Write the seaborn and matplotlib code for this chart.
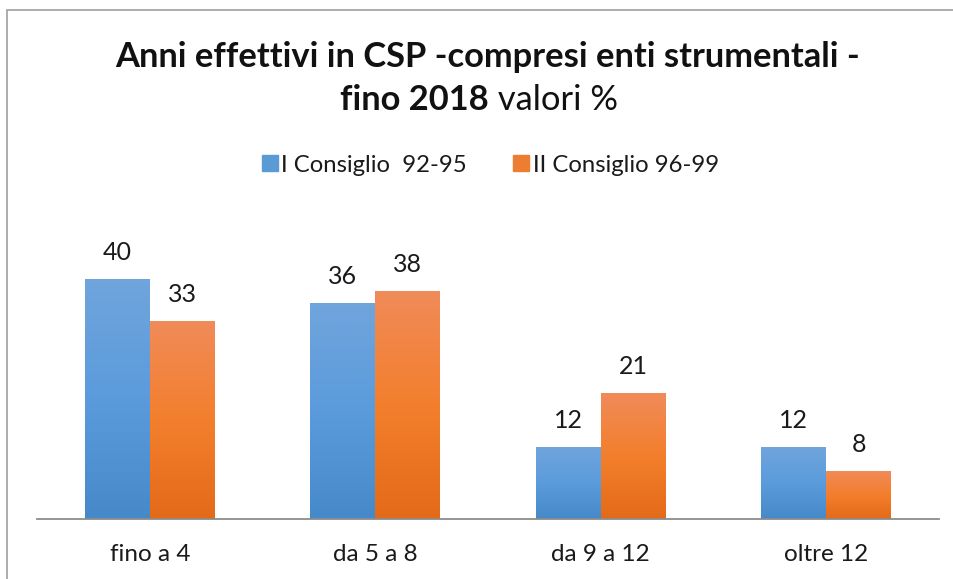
import numpy as np
import pandas as pd
import seaborn as sns
import matplotlib.pyplot as plt
from matplotlib.colors import LinearSegmentedColormap
from matplotlib.patches import Rectangle
from matplotlib.lines import Line2D

categories = ["fino a 4", "da 5 a 8", "da 9 a 12", "oltre 12"]
series_names = ["I Consiglio  92-95", "II Consiglio 96-99"]
values_I = [40, 36, 12, 12]
values_II = [33, 38, 21, 8]

df = pd.DataFrame({
    "cat": categories * 2,
    "serie": [series_names[0]] * len(categories) + [series_names[1]] * len(categories),
    "val": values_I + values_II,
})

sns.set_theme(style="white")
plt.rcParams['font.family'] = ['Lato', 'DejaVu Sans']

W, H = 954, 579
fig = plt.figure(figsize=(W / 100, H / 100), dpi=100)
fig.patch.set_facecolor("white")

# figure border (only left and top visible)
fig.patches.append(Rectangle((7 / W, -0.05), 1.2, (H - 9.5) / H + 0.05, transform=fig.transFigure,
                             fill=False, edgecolor="#a6a6a6", linewidth=1.3))

ax = fig.add_axes([37 / W, 60 / H, (939 - 37) / W, 319 / H])
palette = {series_names[0]: "#5b9bd5", series_names[1]: "#ed7d31"}
sns.barplot(data=df, x="cat", y="val", hue="serie", order=categories,
            hue_order=series_names, palette=palette, width=0.576, ax=ax,
            legend=False, saturation=1, errorbar=None)
ax.set_ylim(0, 319 / 6)
ax.set_xlim(-0.5, len(categories) - 0.5)

# gradient fill per bar
cmaps = {
    series_names[0]: LinearSegmentedColormap.from_list("b", ["#4689c9", "#5b9bdc", "#70a5dc"]),
    series_names[1]: LinearSegmentedColormap.from_list("o", ["#e36a18", "#f37f2d", "#f08b59"]),
}
grad = np.linspace(0, 1, 256).reshape(-1, 1)
n = len(categories)
for i, p in enumerate(ax.patches[:2 * n]):
    s = series_names[i // n]
    x0, y0 = p.get_x(), p.get_y()
    w, h = p.get_width(), p.get_height()
    im = ax.imshow(grad, extent=[x0, x0 + w, y0, y0 + h], origin="lower",
                   aspect="auto", cmap=cmaps[s], zorder=p.get_zorder() + 0.1)
    im.set_clip_path(p)
    ax.text(x0 + w / 2, y0 + h + 4.4, f"{int(round(h))}", ha="center", va="center",
            fontsize=18, color="#1a1a1a")
ax.set_xlim(-0.5, len(categories) - 0.5)
ax.set_ylim(0, 319 / 6)

for sp in ["top", "right", "left"]:
    ax.spines[sp].set_visible(False)
ax.spines["bottom"].set_color("#8c8c8c")
ax.spines["bottom"].set_linewidth(1.3)
ax.set_yticks([])
ax.set_xlabel("")
ax.set_ylabel("")
ax.set_xticks(range(n))
ax.set_xticklabels(categories, fontsize=17.5, color="#1a1a1a")
ax.tick_params(axis="x", which="major", length=0, pad=18)
ax.set_xticks(np.arange(-0.5, n, 1.0), minor=True)
ax.tick_params(axis="x", which="minor", length=8, width=1.3, color="#8c8c8c", direction="out")

# legend
handles = [Line2D([], [], marker="s", linestyle="none", markersize=11,
                  markerfacecolor=palette[s], markeredgecolor=palette[s]) for s in series_names]
fig.legend(handles, series_names, loc="center", bbox_to_anchor=(490 / W, 1 - 165 / H),
           ncol=2, frameon=False, fontsize=17.2, handletextpad=0.1, columnspacing=1.9,
           handlelength=0.75, labelcolor="#1a1a1a")

# title
fig.text(488 / W, 1 - 57 / H, "Anni effettivi in CSP -compresi enti strumentali -",
         ha="center", va="center", fontsize=24.8, fontweight="bold", color="#111111")
fig.canvas.draw()
r = fig.canvas.get_renderer()
t1 = fig.text(0, 1 - 100 / H, "fino 2018", ha="left", va="center", fontsize=24.8,
              fontweight="bold", color="#111111")
t2 = fig.text(0, 1 - 100 / H, " valori %", ha="left", va="center", fontsize=24.8,
              fontweight="normal", color="#111111")
w1 = t1.get_window_extent(r).width
w2 = t2.get_window_extent(r).width
start = 479 - (w1 + w2) / 2
t1.set_x(start / W)
t2.set_x((start + w1) / W)

fig.savefig("out.png", dpi=100)
